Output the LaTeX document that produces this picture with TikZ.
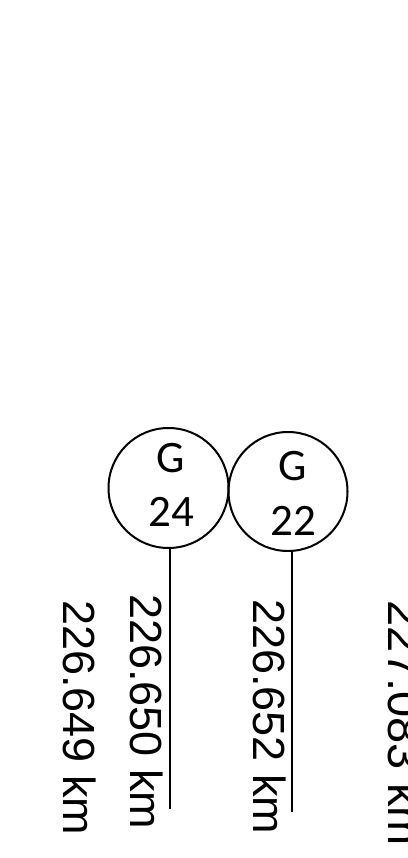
\documentclass[tikz,border=0pt]{standalone}
\usepackage{fontspec}
\setmainfont{Liberation Sans}
\newfontfamily\carlito{Carlito}
\begin{document}
\begin{tikzpicture}[x=1pt,y=-1pt,
  gcirc/.style={draw=black,line width=2pt,circle,inner sep=0pt,minimum size=#1},
  gtext/.style={inner sep=0pt,anchor=base,font=\carlito\fontsize{45}{54}\selectfont},
  lbl/.style={inner sep=0pt,anchor=base west,rotate=-90,font=\fontsize{45}{54}\selectfont},
  conn/.style={draw=black,line width=1.7pt}]
\useasboundingbox (0,0) rectangle (407,858);
\node[gcirc=120pt] (c24) at (168.5,488) {};
\node[gcirc=119pt] (c22) at (288,491.5) {};
\node[gtext] (g24a) at (171,472) {G};
\node[gtext] (g24b) at (171,526) {24};
\node[gtext] (g22a) at (293,480) {G};
\node[gtext] (g22b) at (293,535) {22};
\coordinate (e24) at (170,809);
\coordinate (e22) at (291.7,812);
\draw[conn] (e24) -- (e24 |- c24.south);
\draw[conn] (e22) -- (e22 |- c22.south);
\node[lbl] (l1) at (63,600) {226.649 km};
\node[lbl] (l2) at (130,594) {226.650 km};
\node[lbl] (l3) at (253,599) {226.652 km};
\node[lbl,font=\fontsize{47}{56}\selectfont] (l4) at (388,600) {227.083 km};
\end{tikzpicture}
\end{document}
